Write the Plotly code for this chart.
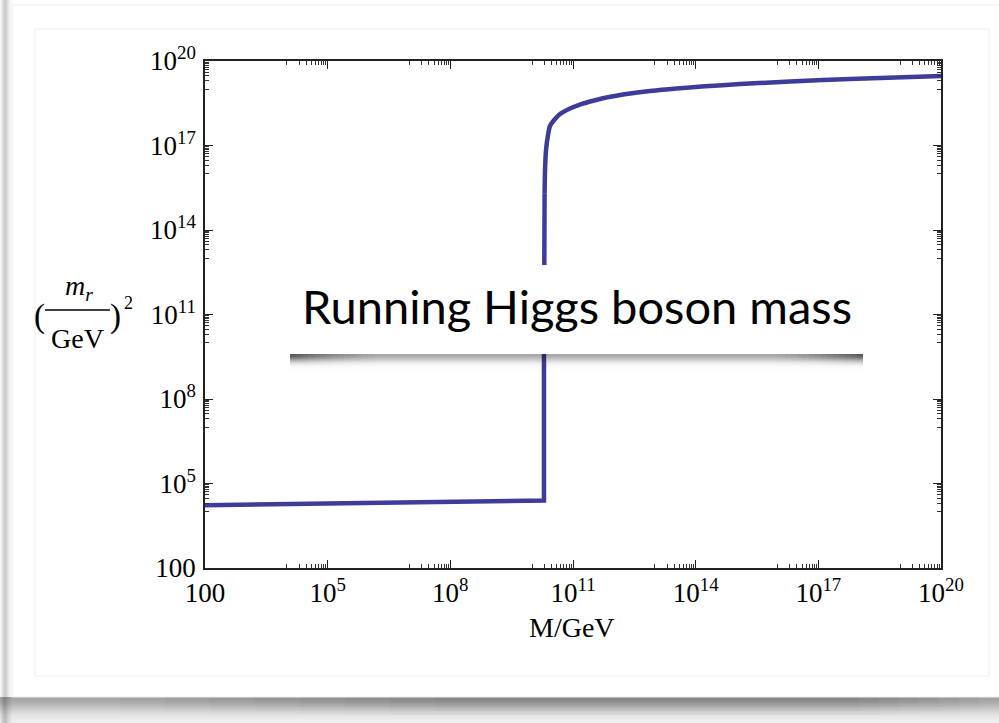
import math
import plotly.graph_objects as go

# Running Higgs mass squared (m_r/GeV)^2 versus scale M/GeV
M_GeV = [1e2, 1.95e10, 1.95e10, 1.97e10, 2.0e10, 2.02e10,
         2.07e10, 2.19e10, 2.45e10, 2.74e10, 3.63e10, 4.81e10, 8.45e10,
         1.48e11, 2.61e11, 4.57e11, 1.06e12, 2.48e12, 7.64e12, 3.40e13,
         1.39e14, 1.21e15, 2.03e16, 5.94e17, 1e20]
m_r2 = [1.7e4, 2.5e4, 1e10, 1e13, 3.16e14, 2.0e15,
        1.35e16, 6.92e16, 2.36e17, 4.92e17, 8.73e17, 1.31e18, 2.06e18,
        2.85e18, 3.65e18, 4.48e18, 5.71e18, 7.01e18, 8.61e18, 1.06e19,
        1.24e19, 1.52e19, 1.87e19, 2.30e19, 2.93e19]
# flat branch and vertical rise are straight; the bend above is smooth
n_straight = 6

tick_vals = [1e2, 1e5, 1e8, 1e11, 1e14, 1e17, 1e20]
tick_text = ["100", "10<sup>5</sup>", "10<sup>8</sup>", "10<sup>11</sup>",
             "10<sup>14</sup>", "10<sup>17</sup>", "10<sup>20</sup>"]
minor_vals = [k * 10.0 ** (n - 1) for n in (5, 8, 11, 14, 17, 20) for k in range(1, 10)]

W, H = 999, 723
L, R, T, B = 205, 941, 61, 568

def px(x):
    return (x - L) / (R - L)

def py(y):
    return (B - y) / (B - T)

SERIF = "Liberation Serif"
LINE = dict(color="#3d3d99", width=4.5)

fig = go.Figure()
fig.add_trace(go.Scatter(x=M_GeV[:n_straight], y=m_r2[:n_straight], mode="lines",
                         line=LINE, hoverinfo="skip", showlegend=False))
fig.add_trace(go.Scatter(x=M_GeV[n_straight - 1:], y=m_r2[n_straight - 1:], mode="lines",
                         line=dict(shape="spline", smoothing=0.8, **LINE),
                         hoverinfo="skip", showlegend=False))

axis_common = dict(
    type="log", showgrid=False, zeroline=False,
    showline=True, linecolor="#222222", linewidth=1.5, mirror="allticks",
    ticks="inside", ticklen=8, tickwidth=1.2, tickcolor="#222222",
    tickmode="array", tickvals=tick_vals, ticktext=tick_text,
    tickfont=dict(family=SERIF, size=27, color="black"),
    minor=dict(tickmode="array", tickvals=minor_vals, ticks="inside",
               ticklen=4, tickwidth=1, tickcolor="#333333"),
)
fig.update_xaxes(range=[2, 20], **axis_common)
fig.update_yaxes(range=[2, 20], ticklabelstandoff=2, **axis_common)

shapes = []
def rect(x0, y0, x1, y1, fill, line=None, layer="below"):
    shapes.append(dict(type="rect", xref="paper", yref="paper",
                       x0=px(x0), x1=px(x1), y0=py(y1), y1=py(y0),
                       fillcolor=fill, layer=layer,
                       line=dict(width=1, color=line) if line else dict(width=0)))

# left edge shading of the card
for i, a in enumerate([0.03, 0.07, 0.12, 0.17, 0.2, 0.2, 0.17, 0.13, 0.09, 0.06, 0.04, 0.02]):
    rect(i, 0, i + 1, 723, f"rgba(0,0,0,{a})")
# shadow underneath the card: vertical fall-off, heavier toward the middle
for i in range(26):
    a = 0.30 * math.exp(-(i / 14) ** 2) + 0.05
    rect(0, 697 + i, 999, 698 + i, f"rgba(0,0,0,{a:.3f})")
for k in range(8):
    x0 = 120 + k * 45
    x1 = 999 - k * 20
    for i in range(0, 18, 2):
        a = 0.025 * math.exp(-(i / 10) ** 2)
        rect(x0, 697 + i, x1, 699 + i, f"rgba(0,0,0,{a:.3f})")
# card and inner panel
rect(12, 5, 1005, 697, "white", "#eeeeee")
rect(35, 29, 989, 676, "white", "#efefef")

# fraction bar of the y-axis title
shapes.append(dict(type="line", xref="paper", yref="paper",
                   x0=px(45), x1=px(110), y0=py(310), y1=py(310),
                   line=dict(color="black", width=1.5), layer="above"))

# caption box with a soft drop shadow, deeper toward the two ends
BX0, BX1, BY0, BY1 = 287, 866, 265, 354
END = 90
for i in range(18):
    base = math.exp(-(i / 7) ** 2)
    rect(BX0 + 3 + END, BY1 + i, BX1 - 3 - END, BY1 + i + 1,
         f"rgba(0,0,0,{0.34 * base:.3f})", layer="above")
    for j in range(0, END, 6):
        boost = 1 + 0.9 * (1 - j / END) ** 1.5
        a = min(0.34 * base * boost, 0.85)
        rect(BX0 + 3 + j, BY1 + i, BX0 + 9 + j, BY1 + i + 1, f"rgba(0,0,0,{a:.3f})", layer="above")
        rect(BX1 - 9 - j, BY1 + i, BX1 - 3 - j, BY1 + i + 1, f"rgba(0,0,0,{a:.3f})", layer="above")
rect(BX0, BY0, BX1, BY1, "white", layer="above")

fig.update_layout(shapes=shapes)

ann = []
def text(x, y, s, size, family=SERIF, xanchor="center"):
    ann.append(dict(x=px(x), y=py(y), xref="paper", yref="paper", text=s,
                    showarrow=False, xanchor=xanchor, yanchor="middle",
                    font=dict(family=family, size=size, color="black")))

text(79, 287, "<i>m</i><sub><i>r</i></sub>", 28)
text(77, 338, "GeV", 28)
text(39, 316, "(", 33)
text(115, 316, ")", 33)
text(128, 303, "2", 18)
text(572, 627, "M/GeV", 28)
text(577, 306, "Running Higgs boson mass", 47, family="Lato")
fig.update_layout(annotations=ann)

fig.update_layout(
    width=W, height=H,
    margin=dict(l=L, r=W - R, t=T, b=H - B),
    paper_bgcolor="white", plot_bgcolor="rgba(0,0,0,0)",
    showlegend=False,
)

fig.write_html("out.html")
